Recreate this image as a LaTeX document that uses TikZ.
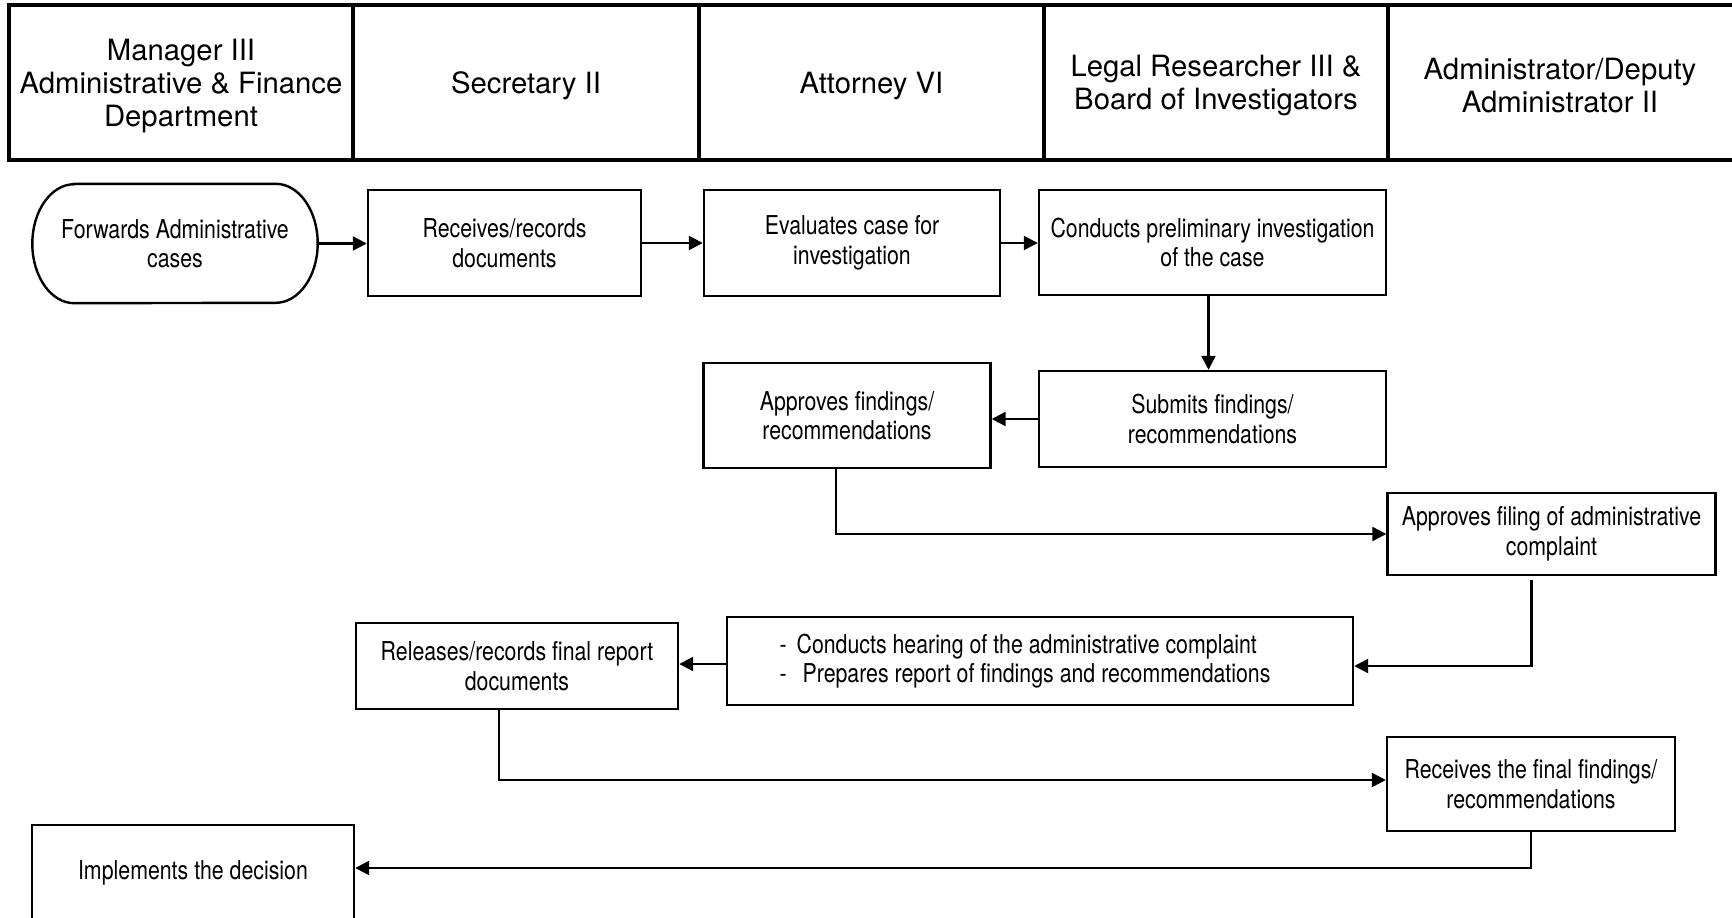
\documentclass[tikz,border=0pt]{standalone}
\usepackage{fontspec}
\setmainfont{TeX Gyre Heros}
\newfontfamily\nrwfont{TeX Gyre Heros}[FakeStretch=0.82]
\usetikzlibrary{arrows.meta}
\newcommand\bxfont{\nrwfont\fontsize{26}{29.5}\selectfont}
\newcommand\hdfont{\fontsize{29.3}{33}\selectfont}
\begin{document}
\begin{tikzpicture}[x=1pt,y=-1pt,
  lane/.style={draw, line width=3.6pt, inner sep=0pt, minimum height=155, minimum width=345},
  lanetxt/.style={inner sep=0pt, align=center, font=\hdfont},
  box/.style={draw, line width=2.4pt, inner sep=0pt, align=center, font=\bxfont},
  txt/.style={inner sep=0pt, align=center, font=\bxfont},
  bx/.style={line width=2.4pt},
  arr/.style={line width=2.3pt, -{Triangle[length=14pt,width=14pt]}}]
\useasboundingbox (0,0) rectangle (1732,918);
% header lanes
\node[lane, minimum width=344] (h1) at (181,82.5) {};
\node[lane, minimum width=346] (h2) at (526,82.5) {};
\node[lane, minimum width=345] (h3) at (871.5,82.5) {};
\node[lane, minimum width=344] (h4) at (1216,82.5) {};
\node[lane, minimum width=360] (h5) at (1568,82.5) {};
\node[lanetxt] (h1t) at (181,86) {Manager III\\Administrative \& Finance\\Department};
\node[lanetxt] (h2t) at (526,86) {Secretary II};
\node[lanetxt] (h3t) at (871.5,86) {Attorney VI};
\node[lanetxt] (h4t) at (1216,86) {Legal Researcher III \&\\Board of Investigators};
\node[lanetxt] (h5t) at (1560,86) {Administrator/Deputy\\Administrator II};
% process nodes
\node[txt, minimum width=285, minimum height=119] (n1) at (175,243.5) {Forwards Administrative\\cases};
\draw[bx] ([xshift=42pt]n1.north west) -- ([xshift=-42pt]n1.north east)
  arc[start angle=90, end angle=-90, x radius=42pt, y radius=59.5pt]
  -- ([xshift=42pt]n1.south west)
  arc[start angle=270, end angle=90, x radius=42pt, y radius=59.5pt] -- cycle;
\node[box, minimum width=273, minimum height=106] (n2) at (504.5,243) {Receives/records\\documents};
\node[box, minimum width=296, minimum height=106] (n3) at (852,243) {Evaluates case for\\investigation};
\node[box, minimum width=347, minimum height=105] (n4) at (1212.5,242.5) {Conducts preliminary investigation\\of the case};
\node[box, minimum width=347, minimum height=96] (n5) at (1212.5,419) {Submits findings/\\recommendations};
\node[box, minimum width=287, minimum height=105] (n6) at (847,415.5) {Approves findings/\\recommendations};
\node[box, minimum width=328, minimum height=82] (n7) at (1551.5,534) {Approves filing of administrative\\complaint};
\node[box, minimum width=626, minimum height=88, align=left] (n8) at (1040,661) {-\hspace{10pt}Conducts hearing of the administrative complaint\\-\hspace{16pt}Prepares report of findings and recommendations\kern30pt};
\node[box, minimum width=322, minimum height=86] (n9) at (517,666) {Releases/records final report\\documents};
\node[box, minimum width=288, minimum height=94] (n10) at (1531,784) {Receives the final findings/\\recommendations};
\node[box, minimum width=322, minimum height=96] (n11) at (193,873) {Implements the decision};
% connectors
\draw[arr] (n1.east) -- (n1.east -| n2.west);
\draw[arr] (n2.east) -- (n2.east -| n3.west);
\draw[arr] (n3.east) -- (n3.east -| n4.west);
\draw[arr] ([xshift=-4pt]n4.south) -- ([xshift=-4pt]n4.south |- n5.north);
\draw[arr] (n5.west) -- (n5.west -| n6.east);
\draw[arr] ([xshift=-11pt]n6.south) |- (n7.west);
\draw[arr] ([xshift=-20pt,yshift=-4pt]n7.south) |- ([yshift=-5pt]n8.east);
\draw[arr] ([yshift=-3pt]n8.west) -- ([yshift=-3pt]n8.west -| n9.east);
\draw[arr] ([xshift=-18pt]n9.south) |- ([yshift=4pt]n10.west);
\draw[arr] (n10.south) |- ([yshift=5pt]n11.east);
\end{tikzpicture}
\end{document}
